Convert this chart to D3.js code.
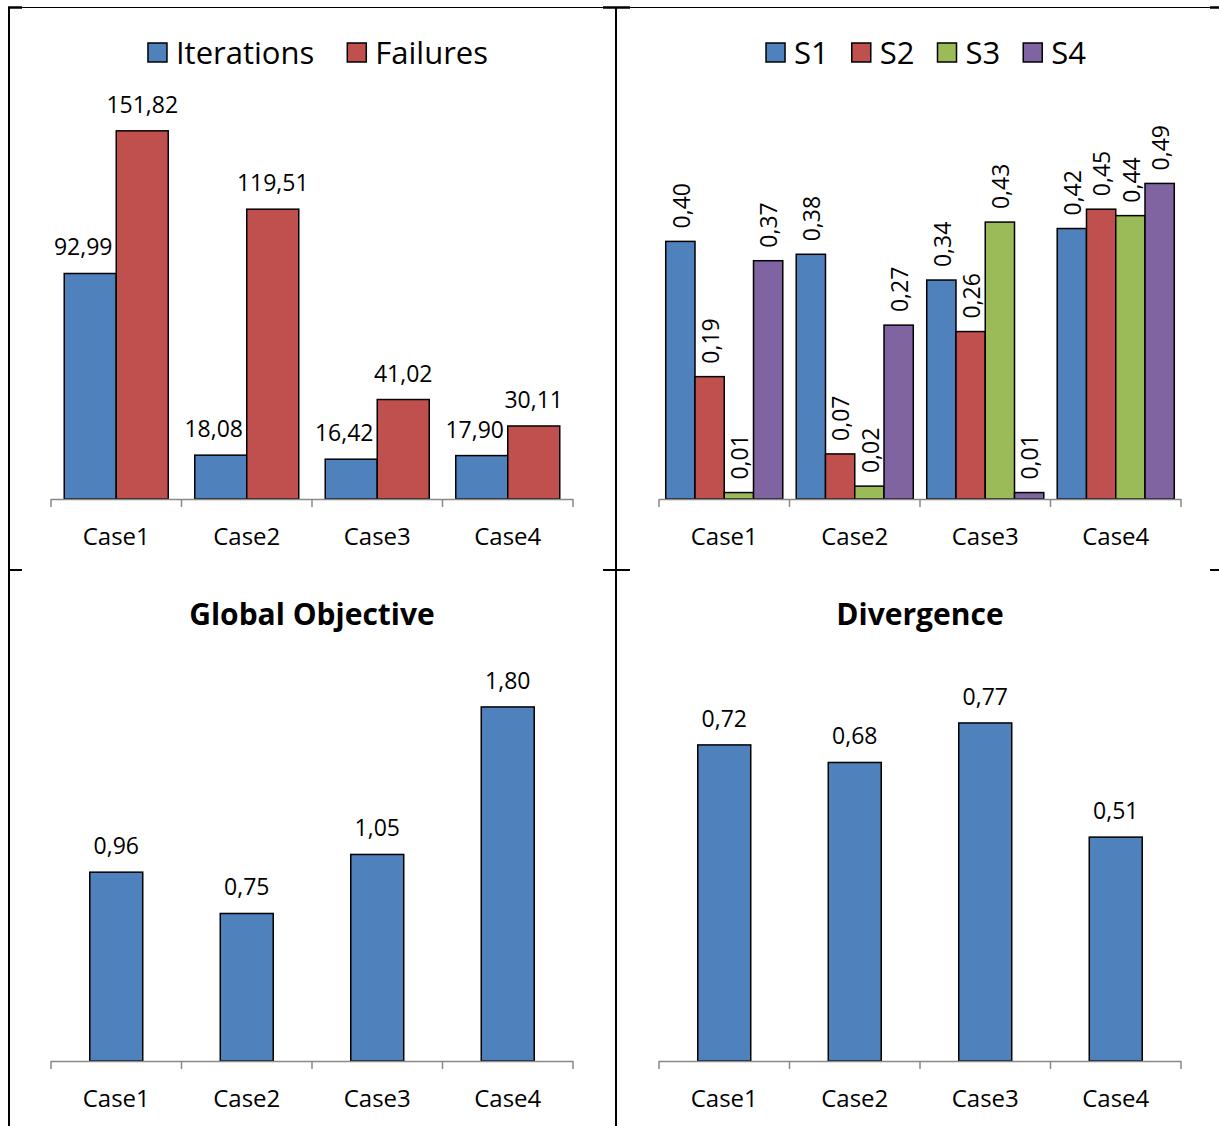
<!DOCTYPE html>
<html>
<head>
<meta charset="utf-8">
<script src="https://cdn.jsdelivr.net/npm/d3@7"></script>
<style>
  body { margin: 0; background: #fff; }
  svg { display: block; font-family: "Open Sans", sans-serif; }
</style>
</head>
<body>
<div id="chart"></div>
<script>
// data
const categories = ["Case1", "Case2", "Case3", "Case4"];

const runSeries = ["Iterations", "Failures"];
const iterations = [92.99, 18.08, 16.42, 17.90];
const failures = [151.82, 119.51, 41.02, 30.11];

const shareSeries = ["S1", "S2", "S3", "S4"];
const s1 = [0.40, 0.38, 0.34, 0.42];
const s2 = [0.19, 0.07, 0.26, 0.45];
const s3 = [0.01, 0.02, 0.43, 0.44];
const s4 = [0.37, 0.27, 0.01, 0.49];

const globalObjective = [0.96, 0.75, 1.05, 1.80];
const divergence = [0.72, 0.68, 0.77, 0.51];

const colors = ["#4F81BD", "#C0504D", "#9BBB59", "#8064A2"];

const W = 1219, H = 1126;
const locale = d3.formatLocale({ decimal: ",", thousands: ".", grouping: [3], currency: ["", ""] });
const fmt = locale.format(".2f");

const svg = d3.select("#chart").append("svg")
    .attr("width", W)
    .attr("height", H);

// frame lines (table borders)
const frame = svg.append("g").attr("stroke", "#000");
frame.append("line").attr("x1", 8).attr("x2", W).attr("y1", 7.5).attr("y2", 7.5).attr("stroke-width", 1.2);
[[8, 22], [603, 630], [1210, 1219]].forEach(s => {
    frame.append("line").attr("x1", s[0]).attr("x2", s[1]).attr("y1", 7.5).attr("y2", 7.5).attr("stroke-width", 2.5);
    frame.append("line").attr("x1", s[0]).attr("x2", s[1]).attr("y1", 570).attr("y2", 570).attr("stroke-width", 2);
});
frame.append("line").attr("x1", 9).attr("x2", 9).attr("y1", 7).attr("y2", H).attr("stroke-width", 2);
frame.append("line").attr("x1", 616).attr("x2", 616).attr("y1", 7).attr("y2", H).attr("stroke-width", 2);

function drawChart(opts) {
    const g = svg.append("g");
    const x0 = d3.scaleBand().domain(categories).range([opts.left, opts.left + 522]);
    const bw = x0.bandwidth();
    const gw = bw * opts.groupFrac;
    const x1 = d3.scaleBand().domain(opts.series).range([(bw - gw) / 2, (bw + gw) / 2]);
    const y = d3.scaleLinear().domain([0, opts.max]).range([opts.base, opts.base - opts.height]);

    const rows = [];
    opts.series.forEach((s, si) => {
        opts.values[si].forEach((v, ci) => rows.push({ s, si, cat: categories[ci], v }));
    });

    g.selectAll("rect").data(rows).enter().append("rect")
        .attr("x", d => x0(d.cat) + x1(d.s))
        .attr("y", d => y(d.v))
        .attr("width", x1.bandwidth())
        .attr("height", d => y(0) - y(d.v))
        .attr("fill", d => colors[d.si])
        .attr("stroke", "#000")
        .attr("stroke-width", 1.5);

    // value labels
    const lab = g.selectAll(".val").data(rows).enter().append("text")
        .attr("class", "val")
        .style("font-size", "23px")
        .attr("fill", "#000")
        .text(d => fmt(d.v));
    if (opts.rotate) {
        lab.attr("text-anchor", "start")
            .attr("dy", "0.36em")
            .attr("transform", d => {
                const cx = x0(d.cat) + x1(d.s) + x1.bandwidth() / 2 + 1;
                const cy = y(d.v) - 13;
                return `translate(${cx},${cy}) rotate(-90)`;
            });
    } else {
        lab.attr("text-anchor", "middle")
            .attr("x", d => x0(d.cat) + x1(d.s) + x1.bandwidth() / 2 + (opts.shift ? opts.shift[d.si] : 0))
            .attr("y", d => y(d.v) - 18);
    }

    // axis
    const ax = g.append("g").attr("stroke", "#898989").attr("stroke-width", 1.5);
    ax.append("line").attr("x1", opts.left).attr("x2", opts.left + 522)
        .attr("y1", opts.base + 0.5).attr("y2", opts.base + 0.5);
    const edges = categories.map(c => x0(c)).concat([opts.left + 522]);
    ax.selectAll(".tick").data(edges).enter().append("line")
        .attr("x1", d => d).attr("x2", d => d)
        .attr("y1", opts.base).attr("y2", opts.base + 8);

    g.selectAll(".cat").data(categories).enter().append("text")
        .attr("x", d => x0(d) + bw / 2)
        .attr("y", opts.base + 46)
        .attr("text-anchor", "middle")
        .style("font-size", "24px")
        .text(d => d);

    const cx = opts.left + 261;
    if (opts.title) {
        g.append("text")
            .attr("x", cx)
            .attr("y", opts.base - 436)
            .attr("text-anchor", "middle")
            .style("font-size", "30px")
            .style("font-weight", "bold")
            .text(opts.title);
    }
    if (opts.legend) {
        const lg = g.append("g");
        let xx = 0;
        opts.series.forEach((s, i) => {
            const it = lg.append("g").attr("transform", `translate(${xx},0)`);
            it.append("rect").attr("x", 0).attr("y", 43).attr("width", 19).attr("height", 19)
                .attr("fill", colors[i]).attr("stroke", "#000").attr("stroke-width", 1.5);
            const t = it.append("text").attr("x", 28).attr("y", 64)
                .style("font-size", "31px").text(s);
            const tw = t.node().getComputedTextLength();
            xx += 28 + tw + (i < opts.series.length - 1 ? opts.legendGap : 0);
        });
        lg.attr("transform", `translate(${cx + 6 - xx / 2},0)`);
    }
}

drawChart({
    left: 51, base: 499, height: 388, max: 160, groupFrac: 0.797,
    series: runSeries, values: [iterations, failures], legend: true, legendGap: 33, shift: [-7, 0]
});
drawChart({
    left: 659, base: 499, height: 386.4, max: 0.6, groupFrac: 0.897,
    series: shareSeries, values: [s1, s2, s3, s4], legend: true, legendGap: 23, rotate: true
});
drawChart({
    left: 51, base: 1061, height: 393.4, max: 2, groupFrac: 0.406,
    series: ["Global Objective"], values: [globalObjective], title: "Global Objective"
});
drawChart({
    left: 659, base: 1061, height: 395.1, max: 0.9, groupFrac: 0.406,
    series: ["Divergence"], values: [divergence], title: "Divergence"
});
</script>
</body>
</html>
